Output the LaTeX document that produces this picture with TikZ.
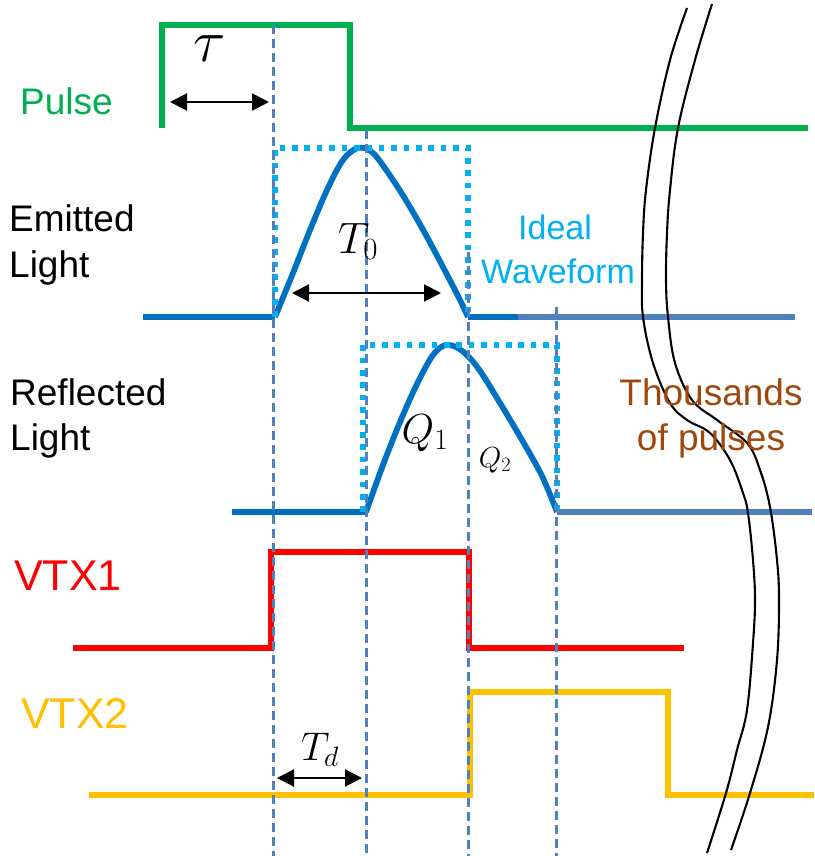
\RequirePackage{fix-cm}
\documentclass[tikz,border=0pt]{standalone}
\usepackage[no-math]{fontspec}
\setmainfont{Liberation Sans}
\usetikzlibrary{arrows.meta}
\definecolor{pgreen}{HTML}{00B050}
\definecolor{lblue}{HTML}{00B0F0}
\definecolor{dblue}{HTML}{0070C0}
\definecolor{steel}{HTML}{4F81BD}
\definecolor{vred}{HTML}{FF0000}
\definecolor{vyellow}{HTML}{FFC000}
\definecolor{brown}{HTML}{9E480E}
\tikzset{
  wave/.style={line width=5.8pt, line join=round},
  vguide/.style={draw=steel, line width=3pt, dash pattern=on 9pt off 5pt},
  ideal/.style={draw=lblue, line width=5.6pt, dash pattern=on 5.6pt off 6.8pt},
  dimarrow/.style={line width=2.1pt, {Triangle[length=17pt,width=17pt]}-{Triangle[length=17pt,width=17pt]}},
  breakline/.style={line width=2.1pt, black},
  lbl/.style={inner sep=0pt, anchor=base west, font=\fontsize{37}{44}\selectfont},
  vlbl/.style={inner sep=0pt, anchor=base west, font=\fontsize{43}{50}\selectfont},
  clbl/.style={inner sep=0pt, anchor=base},
  mlbl/.style={inner sep=0pt, anchor=base}
}
\begin{document}
\begin{tikzpicture}[x=1pt,y=-1pt]
\useasboundingbox (0,0) rectangle (814,856);

% Pulse
\draw[wave, pgreen, line join=miter] (162,128) -- (162,25) -- (350,25) -- (350,128) -- (808,128);

% Emitted light
\draw[wave, dblue] (143,317) -- (275,317);
\draw[wave, dblue] plot[smooth, tension=0.55] coordinates {(275,317) (293,273) (310,230) (327,190) (343,160) (358,148) (373,153) (393,180) (410,207) (427,237) (443,267) (460,300) (468,317)};
\draw[wave, dblue] (468,317) -- (518,317);
\draw[wave, steel] (518,317) -- (795,317);

% Reflected light
\draw[wave, dblue] (232,512) -- (366,512);
\draw[wave, dblue] plot[smooth, tension=0.55] coordinates {(366,512) (383,465) (400,422) (417,384) (433,355) (446,345) (461,350) (478,368) (500,403) (522,440) (542,476) (557,512)};
\draw[wave, steel] (557,512) -- (812,512);

% VTX1, VTX2
\draw[wave, vred, line join=miter] (73,648) -- (271,648) -- (271,552) -- (469,552) -- (469,648) -- (684,648);
\draw[wave, vyellow, line join=miter] (89,795) -- (470,795) -- (470,692) -- (668,692) -- (668,795) -- (814,795);

% ideal waveforms (dotted)
\draw[ideal] (275,317) -- (275,148) -- (468,148) -- (468,317);
\draw[ideal] (363,512) -- (363,345) -- (557,345) -- (557,512);

% dashed guides
\draw[vguide] (273,25) -- (273,856);
\draw[vguide] (366,130) -- (366,856);
\draw[vguide] (468,252) -- (468,856);
\draw[vguide] (556,307) -- (556,856);

% break marks
\draw[breakline] plot[smooth, tension=0.6] coordinates {(687,8) (670,60) (655,128) (646,190) (643,233) (642,280) (643,317) (653,363) (670,403) (687,420) (710,433) (730,460) (743,493) (748,513) (753,560) (755,600) (753,643) (747,710) (737,750) (726,793) (707,853)};
\draw[breakline] plot[smooth, tension=0.6] coordinates {(712,4) (695,60) (678,128) (670,190) (667,233) (666,280) (668,317) (675,363) (692,400) (717,420) (747,443) (760,470) (770,507) (777,560) (779,600) (777,660) (768,727) (750,793) (731,850)};

% dimension arrows
\coordinate (tauL) at (170,102);
\coordinate (tauR) at (269,102);
\draw[dimarrow] (tauL) -- (tauR);
\coordinate (t0L) at (292,293);
\coordinate (t0R) at (441,293);
\draw[dimarrow] (t0L) -- (t0R);
\coordinate (tdL) at (277,778);
\coordinate (tdR) at (362,778);
\draw[dimarrow] (tdL) -- (tdR);

% labels
\node[lbl, text=pgreen] (pulse) at (20,115) {Pulse};
\node[lbl] (emit1) at (9,231) {Emitted};
\node[lbl] (emit2) at (9,277) {Light};
\node[lbl] (refl1) at (10,405) {Reflected};
\node[lbl] (refl2) at (10,450) {Light};
\node[vlbl, text=vred] (vtx1) at (14,590) {VTX1};
\node[vlbl, text=vyellow] (vtx2) at (21,728) {VTX2};
\node[clbl, text=lblue, font=\fontsize{34}{40}\selectfont] (ideal1) at (555,239) {Ideal};
\node[clbl, text=lblue, font=\fontsize{34}{40}\selectfont] (ideal2) at (558,283) {Waveform};
\node[clbl, text=brown, font=\fontsize{37}{44}\selectfont] (thou1) at (711,405) {Thousands};
\node[clbl, text=brown, font=\fontsize{37}{44}\selectfont] (thou2) at (711,450) {of pulses};

\node[inner sep=0pt, font=\fontsize{60}{70}\selectfont] (tau) at (210,49) {$\tau$};
\node[mlbl, font=\fontsize{44}{52}\selectfont] (T0) at (358,253) {$T_0$};
\node[mlbl, font=\fontsize{42}{50}\selectfont] (Q1) at (425,443) {$Q_1$};
\node[mlbl, font=\fontsize{29}{35}\selectfont] (Q2) at (495,467) {$Q_2$};
\node[mlbl, font=\fontsize{40}{48}\selectfont] (Td) at (320,760) {$T_d$};
\end{tikzpicture}
\end{document}
